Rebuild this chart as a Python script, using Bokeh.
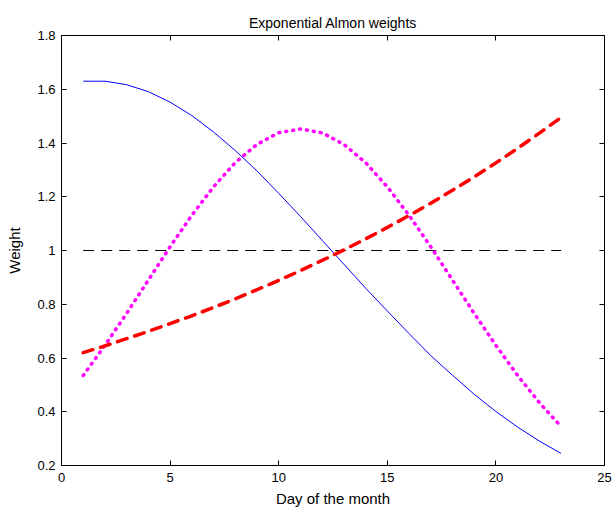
from bokeh.plotting import figure
from bokeh.models import Range1d, FixedTicker, LinearAxis
from bokeh.embed import file_html
from bokeh.resources import INLINE

days = list(range(1, 24))
w_blue = [1.630, 1.630, 1.617, 1.591, 1.552, 1.502, 1.441, 1.372, 1.296, 1.213,
          1.127, 1.038, 0.949, 0.860, 0.775, 0.691, 0.609, 0.536, 0.465, 0.401,
          0.343, 0.291, 0.245]
w_magenta = [0.535, 0.647, 0.766, 0.890, 1.014, 1.131, 1.237, 1.327, 1.395, 1.438,
             1.452, 1.438, 1.395, 1.327, 1.237, 1.131, 1.014, 0.890, 0.766, 0.647,
             0.535, 0.434, 0.345]
w_red = [0.620, 0.645, 0.672, 0.699, 0.728, 0.757, 0.788, 0.820, 0.854, 0.889,
         0.925, 0.963, 1.002, 1.043, 1.086, 1.130, 1.176, 1.224, 1.274, 1.326,
         1.380, 1.437, 1.495]
w_flat = [1.0] * 23

x_ticks = [0, 5, 10, 15, 20, 25]
x_labels = ["0", "5", "10", "15", "20", "25"]
y_ticks = [0.2, 0.4, 0.6, 0.8, 1.0, 1.2, 1.4, 1.6, 1.8]
y_labels = ["0.2", "0.4", "0.6", "0.8", "1", "1.2", "1.4", "1.6", "1.8"]
title_text = "Exponential Almon weights"

FONT = "Liberation Sans"

p = figure(width=615, height=509, output_backend="svg", toolbar_location=None,
           x_range=Range1d(0, 25), y_range=Range1d(0.2, 1.8),
           min_border_left=61, min_border_right=11, min_border_top=35,
           min_border_bottom=44)
p.background_fill_color = "white"
p.border_fill_color = "white"
p.outline_line_color = "black"
p.outline_line_width = 1
p.grid.visible = False

p.title.text = title_text
p.title.align = "center"
p.title.text_font = FONT
p.title.text_font_size = "14px"
p.title.text_font_style = "normal"
p.title.text_color = "black"
p.title.standoff = 10

def style_axis(ax, ticks, labels, show_labels=True):
    ax.ticker = FixedTicker(ticks=ticks)
    ax.axis_line_color = "black"
    ax.major_tick_line_color = "black"
    ax.major_tick_in = 5
    ax.major_tick_out = 0
    ax.minor_tick_line_color = None
    ax.major_label_text_font = FONT
    ax.major_label_text_color = "black"
    if show_labels:
        ax.major_label_overrides = {t: l for t, l in zip(ticks, labels)}
        ax.major_label_text_font_size = "13px"
    else:
        ax.major_label_overrides = {t: "" for t in ticks}
        ax.major_label_text_font_size = "0px"
        ax.major_label_standoff = 0
    ax.axis_label_text_font = FONT
    ax.axis_label_text_font_size = "15px"
    ax.axis_label_text_font_style = "normal"
    ax.axis_label_text_color = "black"

style_axis(p.xaxis[0], x_ticks, x_labels)
p.xaxis[0].axis_label = "Day of the month"
p.xaxis[0].major_label_standoff = 7
p.xaxis[0].axis_label_standoff = 5
style_axis(p.yaxis[0], y_ticks, y_labels)
p.yaxis[0].axis_label = "Weight"
p.yaxis[0].major_label_standoff = 6
p.yaxis[0].axis_label_standoff = 11

top = LinearAxis()
style_axis(top, x_ticks, x_labels, show_labels=False)
p.add_layout(top, "above")
right = LinearAxis()
style_axis(right, y_ticks, y_labels, show_labels=False)
p.add_layout(right, "right")

p.line(days, w_flat, line_color="black", line_width=1, line_dash="11 7")
p.line(days, w_blue, line_color="blue", line_width=1)
p.line(days, w_magenta, line_color="magenta", line_width=3.5, line_dash="1 6",
       line_cap="round")
p.line(days, w_red, line_color="red", line_width=3.5, line_dash="10 8",
       line_cap="round")

open("out.html", "w").write(file_html(p, INLINE))
